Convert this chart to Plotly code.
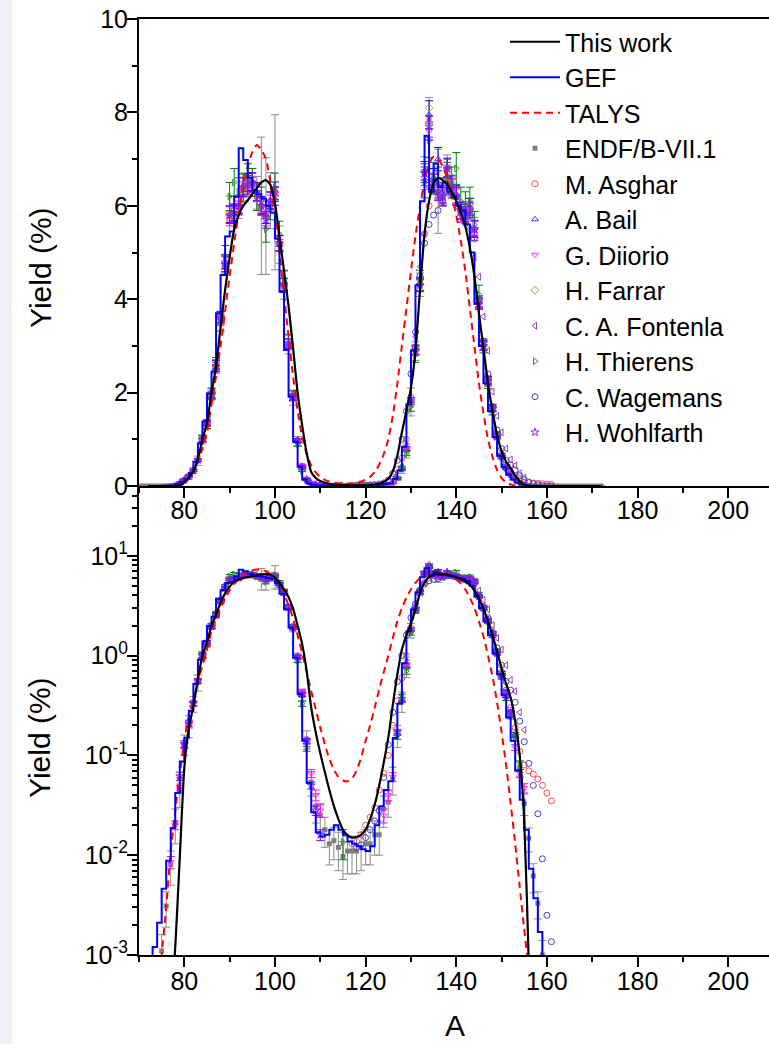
import plotly.graph_objects as go

# ---------------- data ----------------
A_this = list(range(72, 173))
Y_this = [1e-8, 1e-7, 1e-6, 1e-5, 5e-5, 2.5e-4, 0.0012, 0.0095, 0.075, 0.19,
          0.31, 0.58, 1.0, 1.35, 2.0, 2.55, 3.4, 4.2, 4.9, 5.5,
          5.8, 6.0, 6.12, 6.25, 6.38, 6.5, 6.55, 6.45, 6.05, 5.35,
          4.6, 3.85, 2.95, 2.0, 1.3, 0.7, 0.3, 0.17, 0.105, 0.068,
          0.045, 0.031, 0.023, 0.018, 0.0158, 0.015, 0.0152, 0.016, 0.018, 0.023,
          0.032, 0.05, 0.085, 0.15, 0.32, 0.65, 1.15, 1.6, 2.1, 2.9,
          4.2, 5.4, 6.1, 6.5, 6.6, 6.55, 6.45, 6.3, 6.1, 5.85,
          5.55, 5.1, 4.5, 3.7, 2.95, 2.2, 1.6, 1.1, 0.75, 0.52,
          0.38, 0.22, 0.1, 0.022, 8e-4, 1e-5, 1e-6, 1e-6, 1e-6, 1e-6,
          1e-6, 1e-6, 1e-6, 1e-6, 1e-6, 1e-6, 1e-6, 1e-6, 1e-6, 1e-6, 1e-6]

A_gef = list(range(73, 161))
Y_gef = [0.0005, 0.0012, 0.0021, 0.0046, 0.0088, 0.0187, 0.042, 0.087, 0.15, 0.28,
         0.52, 0.91, 1.38, 1.98, 2.45, 3.70, 4.52, 5.34, 5.45, 6.20,
         7.23, 6.98, 6.6, 6.35, 6.25, 6.15, 6.0, 5.85, 5.3, 4.16,
         2.91, 1.91, 0.95, 0.41, 0.14, 0.053, 0.027, 0.017, 0.0154, 0.016,
         0.018, 0.02, 0.018, 0.016, 0.0137, 0.013, 0.0123, 0.0115, 0.011, 0.0123,
         0.02, 0.031, 0.045, 0.055, 0.149, 0.33, 0.84, 1.75, 2.9, 4.3,
         6.1, 7.5, 6.3, 6.9, 6.4, 6.5, 6.3, 6.2, 6.0, 5.9,
         5.6, 5.0, 3.9, 3.0, 2.2, 1.6, 1.05, 0.65, 0.40, 0.24,
         0.14, 0.07, 0.036, 0.018, 0.0073, 0.0037, 0.0017, 0.0007]

A_talys = list(range(74, 158))
Y_talys = [0.0004, 0.001, 0.003, 0.011, 0.028, 0.065, 0.14, 0.25, 0.35, 0.55,
           0.8, 1.15, 1.75, 2.35, 3.0, 3.75, 4.5, 5.2, 5.85, 6.4,
           6.85, 7.15, 7.3, 7.2, 7.0, 6.5, 5.8, 5.0, 4.1, 3.2,
           2.35, 1.6, 1.05, 0.68, 0.44, 0.29, 0.19, 0.13, 0.092, 0.072,
           0.061, 0.056, 0.055, 0.059, 0.07, 0.095, 0.14, 0.2, 0.3, 0.46,
           0.68, 1.0, 1.5, 2.2, 3.0, 3.8, 4.6, 5.35, 6.0, 6.5,
           6.9, 7.05, 7.0, 6.85, 6.6, 6.2, 5.8, 5.25, 4.6, 3.8,
           3.0, 2.2, 1.56, 1.0, 0.62, 0.34, 0.17, 0.08, 0.033, 0.013,
           0.0048, 0.0018, 0.0007, 0.0003]

A_endf = list(range(70, 173))
Y_endf = [2e-6, 6e-6, 1.6e-5, 1.0e-4, 3.5e-4, 0.0011, 0.0031, 0.0080, 0.021, 0.045,
          0.13, 0.20, 0.33, 0.54, 1.00, 1.32, 1.96, 2.56, 3.58, 4.74,
          5.78, 5.82, 5.98, 6.37, 6.44, 6.50, 6.28, 6.00, 5.78, 6.11,
          6.29, 5.17, 4.30, 3.03, 1.88, 0.96, 0.40, 0.146, 0.054, 0.031,
          0.025, 0.018, 0.013, 0.014, 0.012, 0.0097, 0.011, 0.011, 0.011, 0.012,
          0.013, 0.013, 0.016, 0.016, 0.029, 0.034, 0.058, 0.16, 0.35, 0.75,
          1.80, 2.89, 4.31, 6.70, 7.87, 6.54, 6.31, 6.19, 6.79, 6.41,
          6.22, 5.85, 5.85, 5.96, 5.50, 3.93, 3.00, 2.25, 1.67, 1.08,
          0.65, 0.42, 0.27, 0.16, 0.074, 0.033, 0.0148, 0.0062, 0.0033, 0.0010,
          3.2e-4, 1.2e-4, 4e-5, 1.5e-5, 6e-6, 2.5e-6, 1e-6, 5e-7, 2e-7, 1e-7,
          5e-8, 2e-8, 1e-8]
E_endf = [1e-6, 3e-6, 8e-6, 5e-5, 1.5e-4, 0.0005, 0.0012, 0.003, 0.008, 0.015,
          0.03, 0.05, 0.06, 0.1, 0.1, 0.1, 0.12, 0.15, 0.15, 0.2,
          0.43, 0.2, 0.25, 0.3, 0.25, 0.3, 0.35, 1.47, 1.25, 0.6,
          1.66, 0.4, 0.3, 0.2, 0.15, 0.1, 0.05, 0.03, 0.015, 0.01,
          0.008, 0.006, 0.005, 0.005, 0.005, 0.004, 0.0045, 0.0045, 0.0045, 0.005,
          0.005, 0.005, 0.006, 0.006, 0.01, 0.01, 0.018, 0.04, 0.08, 0.15,
          0.3, 0.2, 0.25, 0.35, 0.45, 0.25, 0.9, 0.2, 0.3, 0.25,
          0.2, 0.2, 0.2, 0.2, 0.25, 0.1, 0.1, 0.1, 0.08, 0.07,
          0.05, 0.04, 0.03, 0.02, 0.012, 0.008, 0.004, 0.002, 0.001, 0.0004,
          1.5e-4, 6e-5, 2e-5, 7e-6, 3e-6, 1e-6, 5e-7, 2e-7, 1e-7, 5e-8,
          2e-8, 1e-8, 5e-9]

A_asghar = list(range(79, 107)) + list(range(117, 162))
Y_asghar = [0.050, 0.12, 0.21, 0.34, 0.56, 0.98, 1.35, 1.95, 2.50, 3.60,
            4.70, 5.70, 5.90, 6.00, 6.30, 6.40, 6.45, 6.20, 5.90, 5.80,
            6.00, 6.30, 5.20, 4.30, 3.00, 1.90, 0.98, 0.42,
            0.013, 0.0137, 0.016, 0.020, 0.024, 0.030, 0.045, 0.066, 0.10, 0.20,
            0.35, 0.60, 1.00, 1.90, 2.95, 4.40, 5.40, 6.00, 6.30, 6.30,
            6.20, 6.60, 6.40, 6.20, 5.90, 5.90, 5.90, 5.40, 4.00, 3.10,
            2.30, 1.70, 1.10, 0.68, 0.45, 0.30, 0.19, 0.11, 0.080, 0.070,
            0.065, 0.058, 0.050, 0.042, 0.035]

A_bail = list(range(84, 107)) + list(range(127, 154))
Y_bail = [0.98, 1.36, 1.93, 2.6, 3.62, 4.8, 5.82, 5.86, 6.02, 6.42,
          6.5, 6.52, 6.3, 6.02, 5.8, 6.12, 6.32, 5.2, 4.32, 3.05,
          1.9, 0.97, 0.41,
          0.17, 0.36, 0.8, 1.82, 2.92, 4.33, 6.75, 7.95, 6.6, 7.0,
          6.25, 6.82, 6.45, 6.25, 5.9, 5.85, 5.98, 5.52, 3.95, 3.02,
          2.27, 1.68, 1.09, 0.66, 0.43, 0.27, 0.16]
E_bail = [0.04, 0.05, 0.07, 0.09, 0.12, 0.15, 0.18, 0.18, 0.18, 0.19,
          0.19, 0.19, 0.19, 0.18, 0.18, 0.18, 0.19, 0.16, 0.13, 0.1,
          0.07, 0.04, 0.02,
          0.01, 0.02, 0.04, 0.07, 0.1, 0.14, 0.2, 0.3, 0.2, 0.25,
          0.19, 0.2, 0.19, 0.19, 0.18, 0.18, 0.18, 0.17, 0.12, 0.1,
          0.08, 0.06, 0.04, 0.03, 0.02, 0.015, 0.01]

A_diiorio = list(range(77, 111)) + list(range(124, 156))
Y_diiorio = [0.0085, 0.020, 0.046, 0.125, 0.20, 0.33, 0.55, 0.98, 1.33, 1.93,
             2.52, 3.55, 4.70, 5.72, 5.80, 5.95, 6.35, 6.40, 6.45, 6.25,
             5.95, 5.72, 6.08, 6.25, 5.15, 4.25, 3.00, 1.87, 0.96, 0.44,
             0.133, 0.066, 0.040, 0.028,
             0.025, 0.040, 0.061, 0.17, 0.36, 0.78, 1.80, 2.90, 4.30, 6.60,
             7.60, 6.50, 6.30, 6.20, 6.70, 6.40, 6.20, 5.80, 5.80, 5.90,
             5.40, 3.90, 3.00, 2.20, 1.65, 1.07, 0.64, 0.41, 0.26, 0.12,
             0.066, 0.047]
E_diiorio = [0.0012, 0.002, 0.004, 0.008, 0.012, 0.015, 0.02, 0.04, 0.05, 0.07,
             0.08, 0.1, 0.12, 0.15, 0.15, 0.15, 0.16, 0.16, 0.16, 0.16,
             0.15, 0.15, 0.15, 0.16, 0.13, 0.11, 0.08, 0.05, 0.03, 0.02,
             0.01, 0.006, 0.005, 0.004,
             0.004, 0.005, 0.006, 0.012, 0.02, 0.04, 0.06, 0.09, 0.12, 0.17,
             0.2, 0.17, 0.16, 0.16, 0.17, 0.16, 0.16, 0.15, 0.15, 0.15,
             0.14, 0.1, 0.08, 0.06, 0.05, 0.035, 0.025, 0.018, 0.012, 0.008,
             0.006, 0.005]

A_farrar = [84, 86, 88, 90, 93, 95, 97, 99, 100, 102,
            131, 133, 134, 136, 138, 140, 142, 143, 144, 145, 146, 148, 150]
Y_farrar = [1.0, 1.95, 3.6, 5.8, 6.4, 6.5, 6.0, 6.1, 6.3, 4.3,
            2.9, 6.7, 8.1, 6.3, 6.8, 6.2, 5.9, 6.0, 5.5, 3.95, 3.0, 1.7, 0.66]

A_fontenla = list(range(128, 156))
Y_fontenla = [0.40, 0.85, 1.75, 3.20, 4.70, 5.40, 6.40, 6.30, 6.20, 6.10,
              6.40, 6.30, 6.00, 5.90, 5.60, 5.50, 4.90, 4.48, 3.63, 2.90,
              2.02, 1.50, 1.15, 0.80, 0.57, 0.44, 0.27, 0.18]

A_thierens = list(range(84, 108)) + [115] + list(range(127, 155))
Y_thierens = [1.02, 1.30, 2.00, 2.62, 3.50, 4.90, 6.20, 6.50, 6.30, 6.40,
              6.60, 6.50, 6.20, 6.10, 5.50, 6.00, 6.40, 5.40, 4.40, 3.10,
              1.95, 0.90, 0.33, 0.12,
              0.0135,
              0.16, 0.38, 0.70, 1.70, 2.80, 4.40, 6.50, 7.40, 6.60, 6.50,
              6.30, 6.60, 6.50, 6.80, 6.10, 6.00, 6.10, 5.60, 4.10, 3.00,
              2.20, 1.60, 1.10, 0.62, 0.38, 0.25, 0.15, 0.08]
E_thierens = [0.06, 0.07, 0.1, 0.13, 0.18, 0.25, 0.3, 0.3, 0.3, 0.3,
              0.3, 0.3, 0.3, 0.3, 0.28, 0.3, 0.3, 0.27, 0.22, 0.15,
              0.1, 0.05, 0.02, 0.01,
              0.0045,
              0.015, 0.03, 0.05, 0.1, 0.15, 0.22, 0.33, 0.37, 0.33, 0.33,
              0.3, 0.33, 0.33, 0.34, 0.3, 0.3, 0.3, 0.28, 0.2, 0.15,
              0.11, 0.08, 0.06, 0.04, 0.025, 0.018, 0.012, 0.008]

A_wagemans = list(range(118, 162))
Y_wagemans = [0.012, 0.0127, 0.015, 0.018, 0.022, 0.028, 0.06, 0.128, 0.27, 0.55,
              1.0, 1.6, 2.4, 3.3, 4.5, 5.2, 5.6, 5.8, 5.9, 6.1,
              6.3, 6.3, 6.2, 5.9, 5.8, 5.8, 5.3, 4.0, 3.1, 2.4,
              1.7, 1.2, 0.8, 0.55, 0.45, 0.34, 0.22, 0.137, 0.083, 0.050,
              0.026, 0.0092, 0.0025, 0.00136]

A_wohlfarth = list(range(79, 111)) + list(range(131, 153))
Y_wohlfarth = [0.062, 0.13, 0.21, 0.33, 0.56, 1.00, 1.35, 1.95, 2.55, 3.60,
               4.75, 5.80, 5.85, 6.00, 6.40, 6.45, 6.50, 6.30, 6.00, 5.70,
               6.10, 6.20, 5.20, 4.30, 3.05, 1.90, 0.97, 0.41, 0.14, 0.050,
               0.028, 0.016,
               2.90, 4.30, 6.70, 7.70, 6.50, 6.30, 6.20, 6.80, 6.40, 6.20,
               5.90, 5.80, 5.90, 5.50, 3.90, 3.00, 2.25, 1.65, 1.05, 0.63,
               0.40, 0.26]
E_wohlfarth = [0.006, 0.01, 0.015, 0.02, 0.03, 0.05, 0.06, 0.08, 0.1, 0.13,
               0.16, 0.18, 0.18, 0.18, 0.2, 0.2, 0.2, 0.19, 0.18, 0.18,
               0.19, 0.19, 0.16, 0.14, 0.1, 0.07, 0.04, 0.02, 0.008, 0.004,
               0.003, 0.002,
               0.1, 0.14, 0.2, 0.23, 0.2, 0.19, 0.19, 0.2, 0.19, 0.19,
               0.18, 0.18, 0.18, 0.17, 0.12, 0.1, 0.08, 0.06, 0.04, 0.03,
               0.02, 0.015]

X_TICKS = [80, 100, 120, 140, 160, 180, 200]
LOG_TICKS = [0.001, 0.01, 0.1, 1, 10]
LOG_TEXT = ["10<sup>-3</sup>", "10<sup>-2</sup>", "10<sup>-1</sup>", "10<sup>0</sup>", "10<sup>1</sup>"]

# ---------------- figure ----------------
FONT = "Arial, Liberation Sans, sans-serif"
fig = go.Figure()


def add_series(name, x, y, rank, err=None, err_color=None, **kw):
    for i, (xa, ya) in enumerate([("x", "y"), ("x2", "y2")]):
        tr = dict(x=x, y=y, name=name, xaxis=xa, yaxis=ya, legendgroup=name,
                  showlegend=(i == 0), legendrank=rank)
        tr.update(kw)
        if err is not None:
            tr["error_y"] = dict(type="data", array=err, color=err_color,
                                 thickness=1, width=4)
        fig.add_trace(go.Scatter(**tr))


def mk(symbol, color, size=6):
    return dict(symbol=symbol, color=color, size=size, line=dict(color=color, width=1))


add_series("ENDF/B-VII.1", A_endf, Y_endf, 4, err=E_endf, err_color="#8c8c8c",
           mode="markers", marker=dict(symbol="square", color="#808080", size=5))
add_series("M. Asghar", A_asghar, Y_asghar, 5, mode="markers",
           marker=mk("circle-open", "#ff4a4a"))
add_series("A. Bail", A_bail, Y_bail, 6, err=E_bail, err_color="#0000ff",
           mode="markers", marker=mk("triangle-up-open", "#3b3bff"))
add_series("G. Diiorio", A_diiorio, Y_diiorio, 7, err=E_diiorio, err_color="#ff00ff",
           mode="markers", marker=mk("triangle-down-open", "#ff30ff"))
add_series("H. Farrar", A_farrar, Y_farrar, 8, mode="markers",
           marker=mk("diamond-open", "#a0a030"))
add_series("C. A. Fontenla", A_fontenla, Y_fontenla, 9, mode="markers",
           marker=mk("triangle-left-open", "#a040b0"))
add_series("H. Thierens", A_thierens, Y_thierens, 10, err=E_thierens, err_color="#008000",
           mode="markers", marker=mk("triangle-right-open", "#20a020"))
add_series("C. Wagemans", A_wagemans, Y_wagemans, 11, mode="markers",
           marker=mk("circle-open", "#4040c8"))
add_series("H. Wohlfarth", A_wohlfarth, Y_wohlfarth, 12, err=E_wohlfarth, err_color="#8a00ff",
           mode="markers", marker=mk("star-open", "#8a20ff"))
add_series("TALYS", A_talys, Y_talys, 3, mode="lines",
           line=dict(color="#ff0000", width=2, dash="7px,5px", shape="spline", smoothing=0.6))
add_series("GEF", A_gef, Y_gef, 2, mode="lines",
           line=dict(color="#0000ff", width=2, shape="vh"))
add_series("This work", A_this, Y_this, 1, mode="lines",
           line=dict(color="#000000", width=2.2, shape="spline", smoothing=0.6))

axis_common = dict(showline=True, linecolor="black", linewidth=2, ticks="outside",
                   ticklen=10, tickwidth=2, tickcolor="black", showgrid=False,
                   zeroline=False, tickfont=dict(family=FONT, size=25, color="black"))
split = 469 / 936

fig.update_layout(
    width=769, height=1044,
    margin=dict(l=139, r=0, t=19, b=89),
    plot_bgcolor="white", paper_bgcolor="white",
    font=dict(family=FONT, color="black"),
    xaxis=dict(domain=[0, 1], range=[70, 209], anchor="y", tickvals=X_TICKS, mirror=True,
               ticklabelstandoff=-9,
               minor=dict(dtick=10, tick0=70, ticks="outside", ticklen=5, tickwidth=2,
                          tickcolor="black"), **axis_common),
    yaxis=dict(domain=[split, 1], range=[0, 10], anchor="x", dtick=2, tick0=0,
               ticklabelstandoff=-6,
               minor=dict(dtick=1, ticks="outside", ticklen=5, tickwidth=2,
                          tickcolor="black"), **axis_common),
    xaxis2=dict(domain=[0, 1], range=[70, 209], anchor="y2", matches="x", tickvals=X_TICKS,
                ticklabelstandoff=-7,
                minor=dict(dtick=10, tick0=70, ticks="outside", ticklen=5, tickwidth=2,
                           tickcolor="black"), **axis_common),
    yaxis2=dict(domain=[0, split], type="log", range=[-3, 1.699], anchor="x2",
                tickvals=LOG_TICKS, ticktext=LOG_TEXT, ticklabelstandoff=-6,
                minor=dict(dtick="D1", ticks="outside", ticklen=5, tickwidth=1.5,
                           tickcolor="black"), **axis_common),
    legend=dict(x=(505 - 139) / 630, y=1.0, xanchor="left", yanchor="top",
                bgcolor="rgba(0,0,0,0)", borderwidth=0, itemwidth=50,
                font=dict(family=FONT, size=25, color="black"),
                traceorder="grouped", tracegroupgap=0),
    showlegend=True,
    annotations=[
        dict(text="Yield (%)", xref="paper", yref="paper", x=(40 - 139) / 630,
             y=(955 - 268) / 936, showarrow=False, textangle=-90,
             xanchor="center", yanchor="middle",
             font=dict(family=FONT, size=30, color="black")),
        dict(text="Yield (%)", xref="paper", yref="paper", x=(40 - 139) / 630,
             y=(955 - 738) / 936, showarrow=False, textangle=-90,
             xanchor="center", yanchor="middle",
             font=dict(family=FONT, size=30, color="black")),
        dict(text="A", xref="paper", yref="paper", x=(455 - 139) / 630,
             y=(955 - 1025) / 936, showarrow=False,
             xanchor="center", yanchor="middle",
             font=dict(family=FONT, size=30, color="black")),
    ],
    shapes=[dict(type="rect", xref="paper", yref="paper", x0=-139 / 630, x1=-127 / 630,
                 y0=-89 / 936, y1=1 + 19 / 936, fillcolor="#eef0f5", line=dict(width=0),
                 layer="below")],
)

fig.write_html("out.html")
